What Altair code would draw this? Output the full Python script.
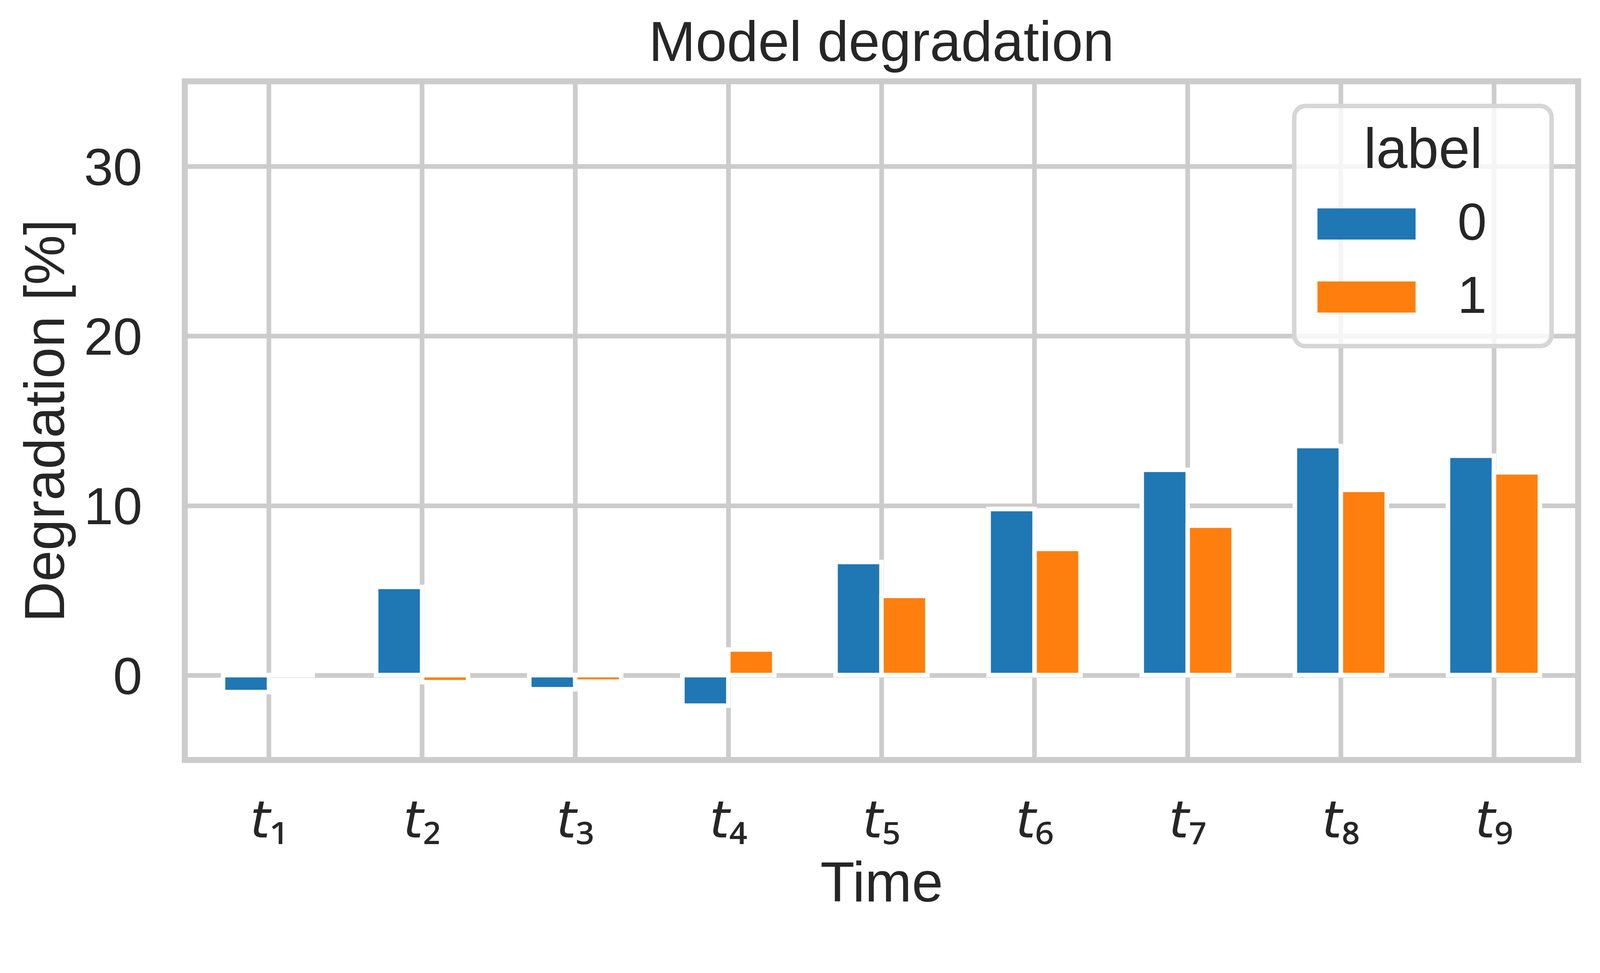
import altair as alt
import pandas as pd

# ---- data ----
times = ["t₁", "t₂", "t₃", "t₄", "t₅", "t₆", "t₇", "t₈", "t₉"]
labels = ["0", "1"]
degradation_label0 = [-1.0, 5.2, -0.83, -1.8, 6.67, 9.79, 12.1, 13.5, 12.93]
degradation_label1 = [0.0, -0.42, -0.38, 1.51, 4.67, 7.44, 8.81, 10.92, 11.95]
y_ticks = [0, 10, 20, 30]
colors = ["#1f77b4", "#ff7f0e"]

rows = []
for t, v0, v1 in zip(times, degradation_label0, degradation_label1):
    rows.append({"Time": t, "label": "0", "Degradation": v0})
    rows.append({"Time": t, "label": "1", "Degradation": v1})
df = pd.DataFrame(rows)

TEXT = "#262626"
GRID = "#cccccc"
FONT = "Liberation Sans"

# wide legend swatch (plus invisible zero-length sub-paths that widen the legend box)
rect_path = ("M-1.871,-0.593L1.871,-0.593L1.871,0.593L-1.871,0.593Z"
             "M-2.1,0L-2.1,0M6.4,1.214L6.4,1.214")

W, H = 3720, 1812
MATH_T = "\U0001D635"  # mathematical sans-serif italic small t

chart = (
    alt.Chart(df)
    .mark_bar(stroke="white", strokeWidth=12)
    .encode(
        x=alt.X(
            "Time:N",
            sort=times,
            scale=alt.Scale(paddingInner=0.4, paddingOuter=0.25),
            axis=alt.Axis(
                title="Time",
                labelAngle=0,
                labelExpr=f"'{MATH_T}' + substring(datum.label, 1)",
                labelFont="Noto Sans, DejaVu Sans",
                labelFontSize=137,
                labelColor=TEXT,
                labelPadding=98,
                titleFont=FONT,
                titleFontSize=150,
                titleFontWeight="normal",
                titleColor=TEXT,
                titlePadding=58,
                grid=True,
                gridColor=GRID,
                gridWidth=12.5,
                bandPosition=0.5,
                ticks=False,
                tickSize=0,
                domain=False,
            ),
        ),
        xOffset=alt.XOffset("label:N", sort=labels, scale=alt.Scale(paddingInner=0, paddingOuter=0)),
        y=alt.Y(
            "Degradation:Q",
            scale=alt.Scale(domain=[-5, 35], nice=False, zero=False),
            axis=alt.Axis(
                title="Degradation [%]",
                values=y_ticks,
                labelFont=FONT,
                labelFontSize=140,
                labelColor=TEXT,
                labelPadding=114,
                labelOffset=8,
                titleFont=FONT,
                titleFontSize=150,
                titleFontWeight="normal",
                titleColor=TEXT,
                titleAngle=270,
                titleAlign="center",
                titleBaseline="bottom",
                titleX=-292,
                titleY=H / 2,
                grid=True,
                gridColor=GRID,
                gridWidth=12.5,
                ticks=False,
                tickSize=0,
                domain=False,
            ),
        ),
        color=alt.Color(
            "label:N",
            scale=alt.Scale(domain=labels, range=colors),
            legend=alt.Legend(
                title="label",
                orient="none",
                legendX=2962,
                legendY=66,
                titleFont=FONT,
                titleFontSize=150,
                titleFontWeight="normal",
                titleColor=TEXT,
                titleAnchor="middle",
                titleLimit=2000,
                titlePadding=49,
                labelFont=FONT,
                labelFontSize=140,
                labelColor=TEXT,
                symbolType=rect_path,
                symbolSize=19600,
                symbolStrokeWidth=0,
                symbolOffset=77,
                labelOffset=173,
                rowPadding=40,
                padding=46,
                fillColor="rgba(255,255,255,0.8)",
                strokeColor="#d6d6d6",
                cornerRadius=30,
            ),
        ),
    )
    .properties(
        width=W,
        height=H,
        title=alt.TitleParams(
            "Model degradation",
            font=FONT,
            fontSize=150,
            fontWeight="normal",
            color=TEXT,
            anchor="middle",
            offset=23,
        ),
        autosize=alt.AutoSizeParams(type="none"),
        padding={"left": 485, "top": 157, "right": 50, "bottom": 440},
        background="white",
    )
    .configure_view(stroke=GRID, strokeWidth=16)
    .configure_legend(strokeWidth=12)
)

chart.save("out.html", embed_options={"renderer": "svg", "actions": False})
